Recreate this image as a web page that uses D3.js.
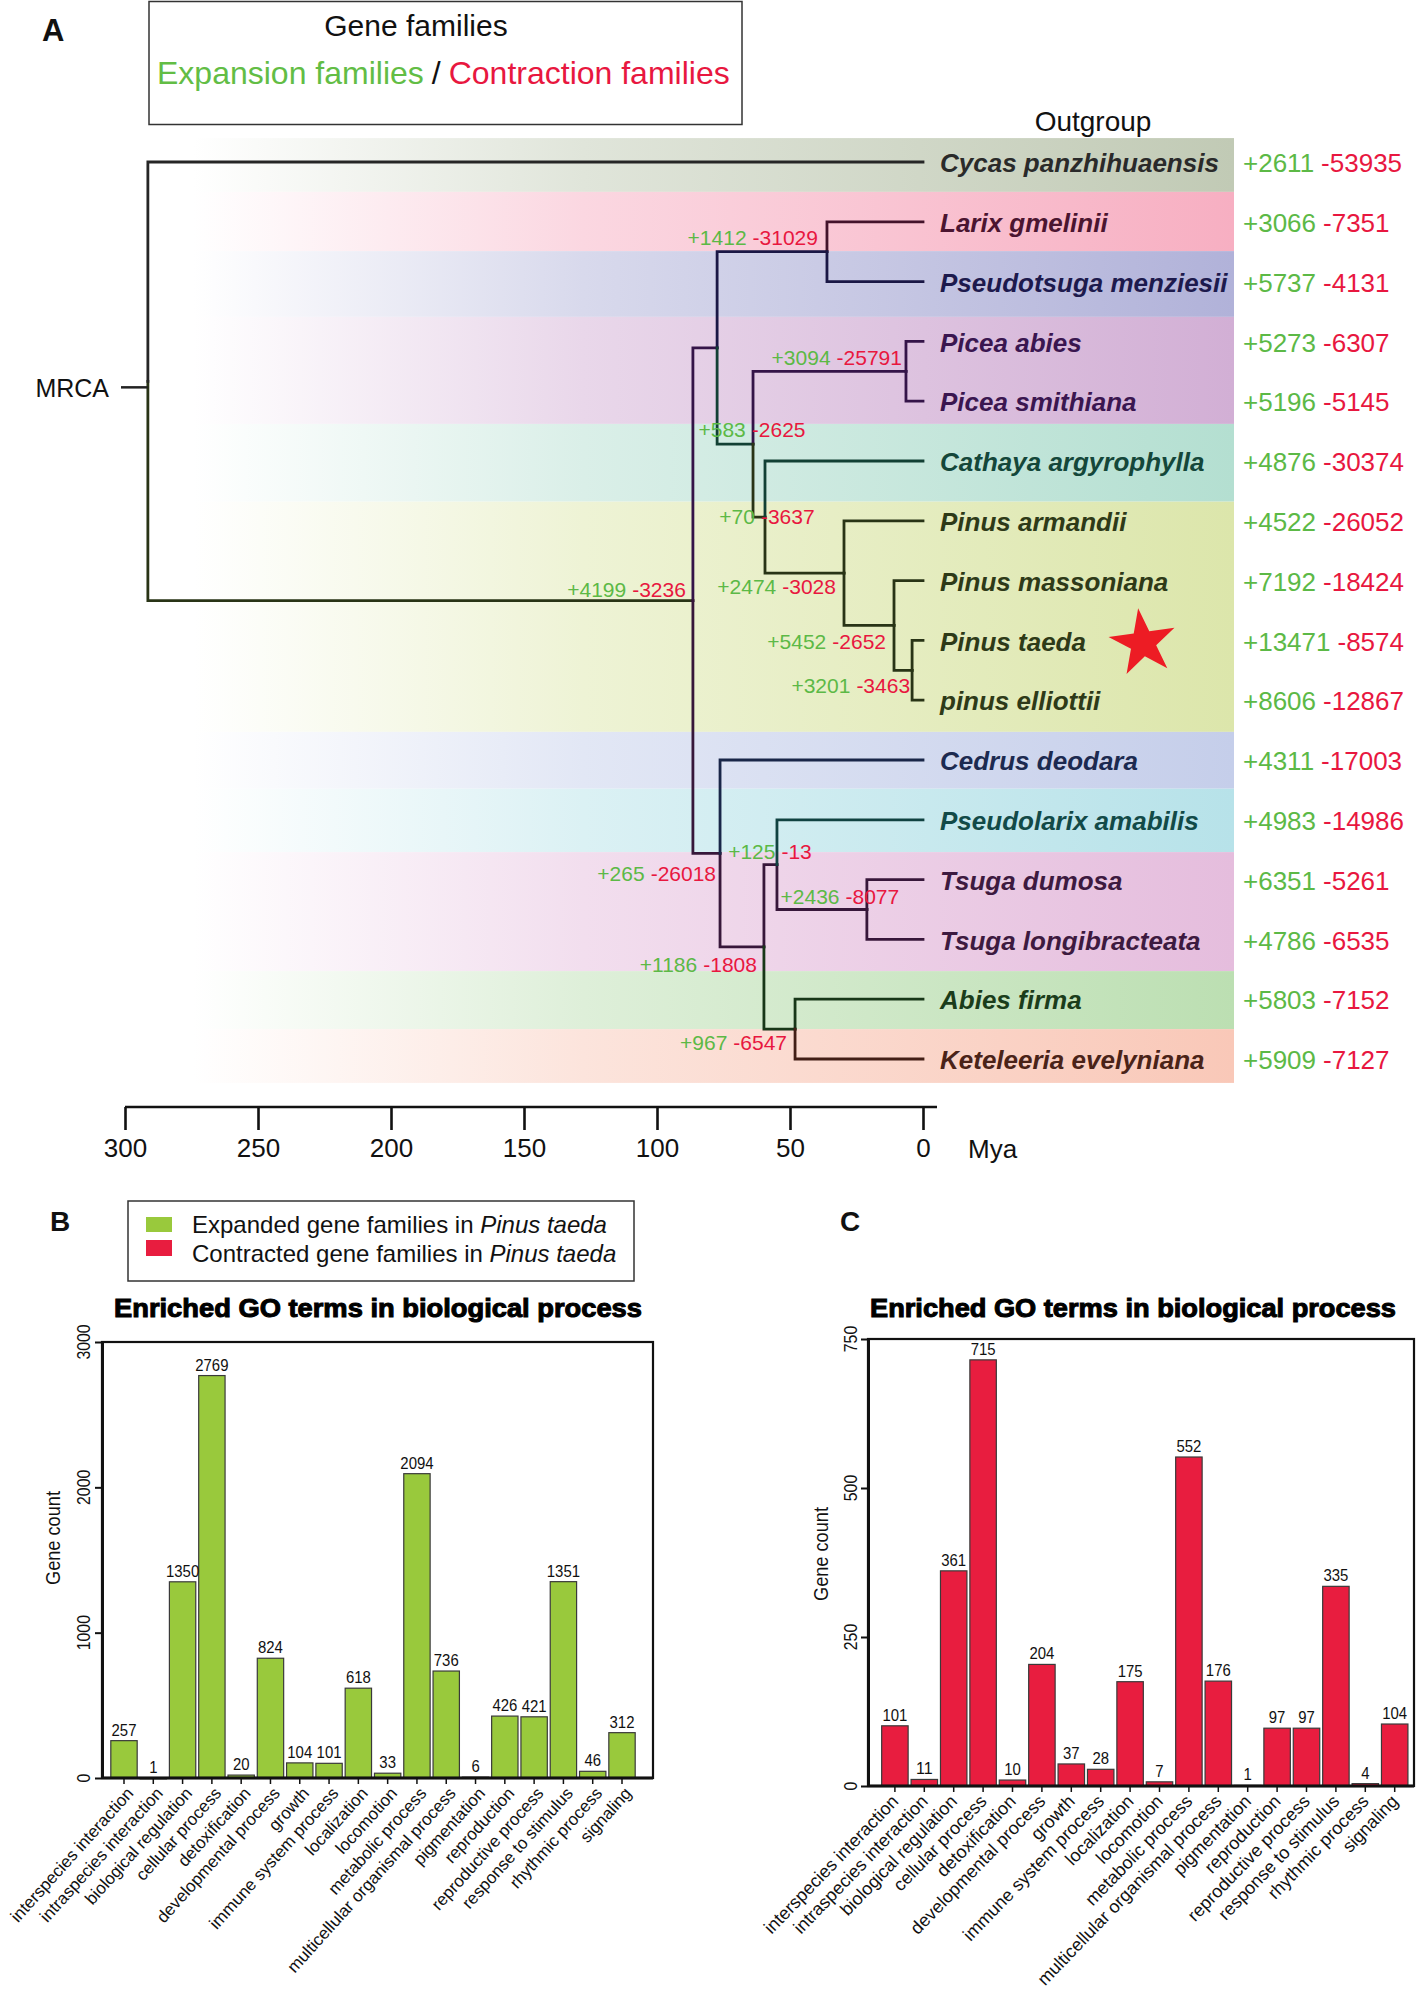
<!DOCTYPE html>
<html><head><meta charset="utf-8">
<script src="https://cdn.jsdelivr.net/npm/d3@7"></script>
<style>body{margin:0;background:#fff}svg{display:block}text{font-family:"Liberation Sans",Arial,sans-serif}</style>
</head><body>
<svg id="c" width="1417" height="1992"></svg>
<script>
// ---------------- DATA ----------------
const leafNames = ["Cycas panzhihuaensis","Larix gmelinii","Pseudotsuga menziesii","Picea abies","Picea smithiana","Cathaya argyrophylla","Pinus armandii","Pinus massoniana","Pinus taeda","pinus elliottii","Cedrus deodara","Pseudolarix amabilis","Tsuga dumosa","Tsuga longibracteata","Abies firma","Keteleeria evelyniana"];
const leafExpansion = [2611,3066,5737,5273,5196,4876,4522,7192,13471,8606,4311,4983,6351,4786,5803,5909];
const leafContraction = [53935,7351,4131,6307,5145,30374,26052,18424,8574,12867,17003,14986,5261,6535,7152,7127];
const leafParents = ["root","LP","LP","Picea","Picea","n765","Pinus","n894","n912","n912","n720","n777","Tsuga","Tsuga","AK","AK"];
const leafGroup = [0,1,2,3,3,4,5,5,5,5,6,7,8,8,9,10];

const internalIds = ["root","ingroup","top","LP","n753","Picea","n765","Pinus","n894","n912","n720","n764","n777","Tsuga","AK"];
const internalParents = ["","root","ingroup","top","top","n753","n753","n765","Pinus","n894","ingroup","n720","n764","n777","n764"];
const internalMya = [291.4,86.5,77.4,36.1,63.9,6.4,59.4,29.7,10.9,4.1,76.3,59.8,54.9,21.1,48.1];
const internalGain = [null,4199,null,1412,583,3094,70,2474,5452,3201,265,1186,125,2436,967];
const internalLoss = [null,3236,null,31029,2625,25791,3637,3028,2652,3463,26018,1808,13,8077,6547];

// taxonomic group bands (edges in leaf-row units)
const bandEdges = [-0.4,0.5,1.49,2.59,4.38,5.68,9.53,10.48,11.54,13.53,14.5,15.4];
const bandColors = ["#c1cab5","#f7afc2","#b1b2d9","#d2afd5","#b4dfd1","#dce6ab","#c5ceea","#b7e2e9","#e5bddd","#bcdfb2","#f9c8b8"];
const labelColors = ["#2a2a2a","#4b1530","#1d1a4d","#3a1650","#14473a","#2e3a18","#1c2a50","#124a48","#3d1a40","#1b3d1b","#4a2318"];
const timeTicks = [300,250,200,150,100,50,0];

const goTerms = ["interspecies interaction","intraspecies interaction","biological regulation","cellular process","detoxification","developmental process","growth","immune system process","localization","locomotion","metabolic process","multicellular organismal process","pigmentation","reproduction","reproductive process","response to stimulus","rhythmic process","signaling"];
const expandedCounts = [257,1,1350,2769,20,824,104,101,618,33,2094,736,6,426,421,1351,46,312];
const contractedCounts = [101,11,361,715,10,204,37,28,175,7,552,176,1,97,97,335,4,104];
const yTicksB = [0,1000,2000,3000];
const yTicksC = [0,250,500,750];

// ---------------- STYLE / LAYOUT ----------------
const GREEN = "#5cb946", RED = "#e8173f";
const svg = d3.select("#c");
const defs = svg.append("defs");

// ---------------- PANEL A ----------------
const xT = d3.scaleLinear().domain([300,0]).range([125,923]);
const yRow = d3.scaleLinear().domain([0,15]).range([162,1059]);

bandColors.forEach((c,i)=>{
  const gr = defs.append("linearGradient").attr("id","bg"+i).attr("x1",0).attr("x2",1).attr("y1",0).attr("y2",0);
  const mix = d3.interpolateRgb("#ffffff",c);
  gr.append("stop").attr("offset",0).attr("stop-color","#ffffff");
  gr.append("stop").attr("offset",0.04).attr("stop-color","#ffffff");
  gr.append("stop").attr("offset",0.4).attr("stop-color",mix(0.5));
  gr.append("stop").attr("offset",1).attr("stop-color",c);
});
svg.append("g").selectAll("rect").data(bandColors).join("rect")
  .attr("x",150).attr("width",1234-150)
  .attr("y",(d,i)=>yRow(bandEdges[i]))
  .attr("height",(d,i)=>yRow(bandEdges[i+1])-yRow(bandEdges[i]))
  .attr("fill",(d,i)=>"url(#bg"+i+")");

// tree
const rows = [];
internalIds.forEach((id,i)=>rows.push({id,parent:internalParents[i]||null,mya:internalMya[i],gain:internalGain[i],loss:internalLoss[i]}));
leafNames.forEach((n,i)=>rows.push({id:n,parent:leafParents[i],mya:0,leaf:i}));
const root = d3.stratify().id(d=>d.id).parentId(d=>d.parent)(rows);
root.eachAfter(n=>{
  n.px = xT(n.data.mya);
  if(n.children){
    const ys = n.children.map(c=>c.py);
    n.py = (d3.min(ys)+d3.max(ys))/2;
  } else n.py = yRow(n.data.leaf);
});
function groupAt(y){
  for(let i=0;i<bandColors.length;i++){ if(y>=yRow(bandEdges[i]) && y<yRow(bandEdges[i+1])) return i; }
  return 0;
}
svg.append("g").selectAll("path").data(root.descendants().filter(n=>n.parent)).join("path")
  .attr("d",n=>`M${n.parent.px},${n.parent.py}V${n.py}H${n.px}`)
  .attr("fill","none")
  .attr("stroke",n=>d3.color(labelColors[groupAt(n.py)]).darker(0.3))
  .attr("stroke-width",2.8).attr("stroke-linecap","square");

// MRCA
svg.append("line").attr("x1",121).attr("x2",root.px).attr("y1",root.py+6).attr("y2",root.py+6).attr("stroke","#222").attr("stroke-width",2.5);
svg.append("text").attr("x",109).attr("y",root.py+7).attr("text-anchor","end").attr("dy","0.35em").attr("font-size",25).attr("fill","#111").text("MRCA");

// internal node labels
const nodeLabelLayout = {ingroup:["end",-7,-11],LP:["end",-9,-14],Picea:["end",-4,-14],n753:["middle",-1,-15],n765:["middle",2,0],Pinus:["end",-8,14],n894:["end",-8,16],n912:["end",-2,15],n720:["end",-4,20],n764:["end",-7,18],n777:["middle",-7,-13],Tsuga:["middle",-27,-13],AK:["end",-8,14]};
const lab = svg.append("g").selectAll("text").data(root.descendants().filter(n=>n.data.gain!=null)).join("text")
  .attr("x",n=>n.px+nodeLabelLayout[n.id][1])
  .attr("y",n=>n.py+nodeLabelLayout[n.id][2])
  .attr("text-anchor",n=>nodeLabelLayout[n.id][0])
  .attr("dy","0.35em").attr("font-size",21);
lab.append("tspan").attr("fill",GREEN).text(n=>"+"+n.data.gain);
lab.append("tspan").attr("fill",RED).attr("dx",6).text(n=>"-"+n.data.loss);

// leaf labels
svg.append("g").selectAll("text").data(leafNames).join("text")
  .attr("x",940).attr("y",(d,i)=>yRow(i)+1).attr("dy","0.35em")
  .attr("font-size",26).attr("font-weight","bold").attr("font-style","italic")
  .attr("fill",(d,i)=>labelColors[leafGroup[i]]).text(d=>d);
const rv = svg.append("g").selectAll("text").data(leafNames).join("text")
  .attr("x",1243).attr("y",(d,i)=>yRow(i)+1).attr("dy","0.35em").attr("font-size",26);
rv.append("tspan").attr("fill",GREEN).text((d,i)=>"+"+leafExpansion[i]);
rv.append("tspan").attr("fill",RED).attr("dx",7).text((d,i)=>"-"+leafContraction[i]);

svg.append("text").attr("x",1093).attr("y",121).attr("text-anchor","middle").attr("dy","0.35em").attr("font-size",28).attr("fill","#111").text("Outgroup");

// star on Pinus taeda
(function(){
  const cx=1143, cy=643, R=35, r=R*0.382, pts=[];
  for(let k=0;k<10;k++){const a=-Math.PI/2+k*Math.PI/5-8*Math.PI/180; const rr=k%2?r:R; pts.push([cx+rr*Math.cos(a),cy+rr*Math.sin(a)]);}
  svg.append("polygon").attr("points",pts.map(p=>p.join(",")).join(" ")).attr("fill","#ed1c24");
})();

// time axis
const ax = svg.append("g").attr("transform","translate(0,1107)")
  .call(d3.axisBottom(xT).tickValues(timeTicks).tickSize(23).tickSizeOuter(0).tickPadding(9).tickFormat(d3.format("d")));
ax.select(".domain").remove();
ax.append("line").attr("x1",125).attr("x2",937).attr("stroke","#111").attr("stroke-width",2.6);
ax.selectAll(".tick line").attr("stroke","#111").attr("stroke-width",2.6);
ax.selectAll(".tick text").attr("font-size",26).attr("fill","#111").attr("font-family",null);
svg.append("text").attr("x",968).attr("y",1149).attr("dy","0.35em").attr("font-size",26).attr("fill","#111").text("Mya");

// legend A
svg.append("rect").attr("x",149).attr("y",1.5).attr("width",593).attr("height",123).attr("fill","#fff").attr("stroke","#333").attr("stroke-width",1.5);
svg.append("text").attr("x",416).attr("y",25).attr("text-anchor","middle").attr("dy","0.35em").attr("font-size",30).attr("fill","#111").text("Gene families");
const lt = svg.append("text").attr("x",157).attr("y",73).attr("dy","0.35em").attr("font-size",32);
lt.append("tspan").attr("fill","#62bd45").text("Expansion families");
lt.append("tspan").attr("fill","#111").attr("dx",8).text("/");
lt.append("tspan").attr("fill",RED).attr("dx",8).text("Contraction families");
svg.append("text").attr("x",42).attr("y",41).attr("font-size",31).attr("font-weight","bold").attr("fill","#111").text("A");

// ---------------- PANELS B & C ----------------
function barPanel(cfg){
  const g = svg.append("g");
  const x = d3.scaleBand().domain(goTerms).range(cfg.xRange).paddingInner(0.1).paddingOuter(0.05);
  const y = d3.scaleLinear().domain([0,cfg.max]).range([cfg.yBottom,cfg.yTop]);
  g.append("text").attr("x",cfg.titleX).attr("y",1308).attr("text-anchor","middle").attr("dy","0.35em")
    .attr("font-size",25).attr("font-weight","bold").attr("textLength",cfg.titleW).attr("lengthAdjust","spacingAndGlyphs")
    .attr("fill","#000").attr("stroke","#000").attr("stroke-width",1).text("Enriched GO terms in biological process");
  g.selectAll("rect.bar").data(cfg.values).join("rect").attr("class","bar")
    .attr("x",(d,i)=>x(goTerms[i])).attr("width",x.bandwidth())
    .attr("y",d=>y(d)).attr("height",d=>Math.max(1,y(0)-y(d)))
    .attr("fill",cfg.color).attr("stroke","#3a3a3a").attr("stroke-width",1.2);
  g.selectAll("text.val").data(cfg.values).join("text").attr("class","val")
    .attr("x",(d,i)=>x(goTerms[i])+x.bandwidth()/2).attr("y",d=>y(d)-5)
    .attr("text-anchor","middle").attr("font-size",17).attr("fill","#111")
    .attr("textLength",d=>String(d).length*8.3).attr("lengthAdjust","spacingAndGlyphs").text(d=>d);
  g.append("rect").attr("x",cfg.frameX0).attr("y",cfg.yTop).attr("width",cfg.frameX1-cfg.frameX0).attr("height",cfg.yBottom-cfg.yTop)
    .attr("fill","none").attr("stroke","#111").attr("stroke-width",2.2);
  const ya = g.append("g").attr("transform",`translate(${cfg.frameX0},0)`)
    .call(d3.axisLeft(y).tickValues(cfg.ticks).tickSize(7).tickSizeOuter(0).tickFormat(""));
  ya.select(".domain").attr("stroke","#111").attr("stroke-width",3);
  ya.selectAll(".tick line").attr("stroke","#111").attr("stroke-width",2);
  g.selectAll("text.yt").data(cfg.ticks).join("text").attr("class","yt")
    .attr("transform",d=>`translate(${cfg.tickLabelX},${y(d)}) rotate(-90)`)
    .attr("text-anchor","middle").attr("dy","0.35em").attr("font-size",19).attr("fill","#111")
    .attr("textLength",d=>String(d).length*8.8).attr("lengthAdjust","spacingAndGlyphs").text(d=>d);
  g.append("text").attr("transform",`translate(${cfg.gcX},${cfg.gcY}) rotate(-90)`)
    .attr("text-anchor","middle").attr("dy","0.35em").attr("font-size",20).attr("fill","#111")
    .attr("textLength",94).attr("lengthAdjust","spacingAndGlyphs").text("Gene count");
  const xa = g.append("g").attr("transform",`translate(0,${cfg.yBottom})`)
    .call(d3.axisBottom(x).tickSize(6).tickSizeOuter(0).tickFormat(""));
  xa.select(".domain").attr("stroke","#111").attr("stroke-width",3).attr("d",`M${cfg.frameX0},0H${cfg.frameX1}`);
  xa.selectAll(".tick line").attr("stroke","#111").attr("stroke-width",1.5);
  g.selectAll("text.xl").data(goTerms).join("text").attr("class","xl")
    .attr("transform",d=>`translate(${x(d)+x.bandwidth()/2+cfg.lx},${cfg.yBottom+cfg.ly}) rotate(${cfg.angle})`)
    .attr("text-anchor","end").attr("dy","0.35em").attr("font-size",cfg.lfs).attr("fill","#111").text(d=>d);
  g.append("text").attr("x",cfg.letterX).attr("y",1231).attr("font-size",28).attr("font-weight","bold").attr("fill","#111").text(cfg.letter);
}
barPanel({values:expandedCounts,color:"#99c93c",max:3000,ticks:yTicksB,xRange:[109.35,636.65],yTop:1342,yBottom:1778,
  frameX0:102,frameX1:653,titleX:378,titleW:528,tickLabelX:83,gcX:53,gcY:1538,lx:6,ly:12,lfs:17,angle:-48,letter:"B",letterX:50});
barPanel({values:contractedCounts,color:"#e81d3f",max:750,ticks:yTicksC,xRange:[880.2,1409.4],yTop:1339,yBottom:1786,
  frameX0:868,frameX1:1414,titleX:1133,titleW:526,tickLabelX:850,gcX:821,gcY:1554,lx:0,ly:12,lfs:18,angle:-46,letter:"C",letterX:840});

// legend B
svg.append("rect").attr("x",128).attr("y",1201).attr("width",506).attr("height",80).attr("fill","#fff").attr("stroke","#333").attr("stroke-width",1.5);
svg.append("rect").attr("x",146).attr("y",1217).attr("width",26).attr("height",15).attr("fill","#99c93c");
svg.append("rect").attr("x",146).attr("y",1240).attr("width",26).attr("height",16).attr("fill","#e81d3f");
[["Expanded gene families in ",1225],["Contracted gene families in ",1254]].forEach(([t,yy])=>{
  const tx = svg.append("text").attr("x",192).attr("y",yy).attr("dy","0.35em").attr("font-size",24).attr("fill","#111");
  tx.append("tspan").text(t);
  tx.append("tspan").attr("font-style","italic").text("Pinus taeda");
});
</script>
</body></html>
